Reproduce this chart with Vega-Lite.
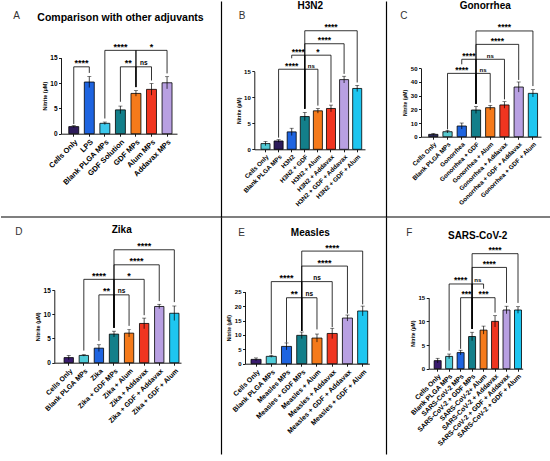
{
  "$schema": "https://vega.github.io/schema/vega-lite/v6.json",
  "padding": 0,
  "background": "white",
  "spacing": 0,
  "bounds": "flush",
  "columns": 3,
  "resolve": {"scale": {"color": "independent"}},
  "datasets": {
    "bars": [
      {"panel": "A", "cat": "Cells Only", "mean": 1.4, "lo": 1.2, "hi": 1.6},
      {"panel": "A", "cat": "LPS", "mean": 10.2, "lo": 9.1, "hi": 11.3},
      {"panel": "A", "cat": "Blank PLGA MPs", "mean": 2.05, "lo": 1.8, "hi": 2.3},
      {"panel": "A", "cat": "GDF Solution", "mean": 4.7, "lo": 3.95, "hi": 5.45},
      {"panel": "A", "cat": "GDF MPs", "mean": 7.95, "lo": 7.4, "hi": 8.5},
      {"panel": "A", "cat": "Alum MPs", "mean": 8.75, "lo": 7.6, "hi": 9.9},
      {"panel": "A", "cat": "Addavax MPs", "mean": 10.05, "lo": 8.85, "hi": 11.25},
      {"panel": "B", "cat": "Cells Only", "mean": 1.1, "lo": 0.7, "hi": 1.5},
      {"panel": "B", "cat": "Blank PLGA MPs", "mean": 1.6, "lo": 1.35, "hi": 1.85},
      {"panel": "B", "cat": "H3N2", "mean": 3.35, "lo": 2.65, "hi": 4.05},
      {"panel": "B", "cat": "H3N2 + GDF", "mean": 6.3, "lo": 5.5, "hi": 7.1},
      {"panel": "B", "cat": "H3N2 + Alum", "mean": 7.4, "lo": 6.95, "hi": 7.85},
      {"panel": "B", "cat": "H3N2 + Addavax", "mean": 7.85, "lo": 7.2, "hi": 8.5},
      {"panel": "B", "cat": "H3N2 + GDF + Addavax", "mean": 13.4, "lo": 12.75, "hi": 14.05},
      {"panel": "B", "cat": "H3N2 + GDF + Alum", "mean": 11.7, "lo": 11.1, "hi": 12.3},
      {"panel": "C", "cat": "Cells Only", "mean": 1.7, "lo": 1.0, "hi": 2.4},
      {"panel": "C", "cat": "Blank PLGA MPs", "mean": 3.65, "lo": 2.7, "hi": 4.6},
      {"panel": "C", "cat": "Gonorrhea", "mean": 7.8, "lo": 5.6, "hi": 10.0},
      {"panel": "C", "cat": "Gonorrhea + GDF", "mean": 19.5, "lo": 17.0, "hi": 22.0},
      {"panel": "C", "cat": "Gonorrhea + Alum", "mean": 21.2, "lo": 19.5, "hi": 22.9},
      {"panel": "C", "cat": "Gonorrhea + Addavax", "mean": 23.2, "lo": 20.8, "hi": 25.6},
      {"panel": "C", "cat": "Gonorrhea + GDF + Addavax", "mean": 36.3, "lo": 32.6, "hi": 40.0},
      {"panel": "C", "cat": "Gonorrhea + GDF + Alum", "mean": 31.7, "lo": 29.0, "hi": 34.4},
      {"panel": "D", "cat": "Cells Only", "mean": 1.05, "lo": 0.6, "hi": 1.5},
      {"panel": "D", "cat": "Blank PLGA MPs", "mean": 1.5, "lo": 1.35, "hi": 1.65},
      {"panel": "D", "cat": "Zika", "mean": 3.0, "lo": 2.3, "hi": 3.7},
      {"panel": "D", "cat": "Zika + GDF MPs", "mean": 5.9, "lo": 5.3, "hi": 6.5},
      {"panel": "D", "cat": "Zika + Alum", "mean": 6.1, "lo": 5.3, "hi": 6.9},
      {"panel": "D", "cat": "Zika + Addavax", "mean": 8.1, "lo": 7.0, "hi": 9.2},
      {"panel": "D", "cat": "Zika + GDF + Addavax", "mean": 11.6, "lo": 11.15, "hi": 12.05},
      {"panel": "D", "cat": "Zika + GDF + Alum", "mean": 10.2, "lo": 8.7, "hi": 11.7},
      {"panel": "E", "cat": "Cells Only", "mean": 1.5, "lo": 1.0, "hi": 2.0},
      {"panel": "E", "cat": "Blank PLGA MPs", "mean": 2.55, "lo": 2.2, "hi": 2.9},
      {"panel": "E", "cat": "Measles MPs", "mean": 6.0, "lo": 4.8, "hi": 7.2},
      {"panel": "E", "cat": "Measles + GDF MPs", "mean": 9.85, "lo": 8.7, "hi": 11.0},
      {"panel": "E", "cat": "Measles + Alum", "mean": 8.9, "lo": 7.5, "hi": 10.3},
      {"panel": "E", "cat": "Measles + Addavax", "mean": 10.5, "lo": 8.7, "hi": 12.3},
      {"panel": "E", "cat": "Measles + GDF + Addavax", "mean": 15.85, "lo": 14.8, "hi": 16.9},
      {"panel": "E", "cat": "Measles + GDF + Alum", "mean": 18.3, "lo": 16.6, "hi": 20.0},
      {"panel": "F", "cat": "Cells Only", "mean": 1.7, "lo": 1.2, "hi": 2.2},
      {"panel": "F", "cat": "Blank PLGA MPs", "mean": 2.6, "lo": 2.1, "hi": 3.1},
      {"panel": "F", "cat": "SARS-CoV-2 MPs", "mean": 3.4, "lo": 2.9, "hi": 3.9},
      {"panel": "F", "cat": "SARS-CoV-2 + GDF MPs", "mean": 6.8, "lo": 5.9, "hi": 7.7},
      {"panel": "F", "cat": "SARS-CoV-2+ Alum", "mean": 8.15, "lo": 7.3, "hi": 9.0},
      {"panel": "F", "cat": "SARS-CoV-2 + Addavax", "mean": 10.0, "lo": 8.8, "hi": 11.2},
      {"panel": "F", "cat": "SARS-CoV-2 + GDF + Addavax", "mean": 12.4, "lo": 11.6, "hi": 13.2},
      {"panel": "F", "cat": "SARS-CoV-2 + GDF + Alum", "mean": 12.4, "lo": 11.7, "hi": 13.1}
    ],
    "brackets": [
      {"panel": "A", "from": "Cells Only", "to": "LPS", "h": 13.2, "lowFrom": 1.9, "lowTo": 12.0, "label": "****", "at": "Cells Only", "half": true},
      {"panel": "A", "from": "Blank PLGA MPs", "to": "GDF MPs", "h": 16.45, "lowFrom": 3.0, "lowTo": 9.2, "label": "****", "at": "GDF Solution", "half": false},
      {"panel": "A", "from": "GDF Solution", "to": "GDF MPs", "h": 13.2, "lowFrom": 6.3, "lowTo": 9.2, "label": "**", "at": "GDF Solution", "half": true},
      {"panel": "A", "from": "GDF MPs", "to": "Alum MPs", "h": 13.2, "lowFrom": 9.2, "lowTo": 10.5, "label": "ns", "at": "GDF MPs", "half": true},
      {"panel": "A", "from": "GDF MPs", "to": "Addavax MPs", "h": 16.45, "lowFrom": 9.2, "lowTo": 11.9, "label": "*", "at": "Alum MPs", "half": false},
      {"panel": "B", "from": "Blank PLGA MPs", "to": "H3N2 + GDF", "h": 15.4, "lowFrom": 2.25, "lowTo": 7.8, "label": "****", "at": "H3N2", "half": false},
      {"panel": "B", "from": "H3N2", "to": "H3N2 + GDF", "h": 18.1, "lowFrom": 17.5, "lowTo": 7.8, "label": "****", "at": "H3N2", "half": true},
      {"panel": "B", "from": "H3N2 + GDF", "to": "H3N2 + Alum", "h": 15.4, "lowFrom": 7.8, "lowTo": 8.4, "label": "ns", "at": "H3N2 + GDF", "half": true},
      {"panel": "B", "from": "H3N2 + GDF", "to": "H3N2 + Addavax", "h": 18.1, "lowFrom": 7.8, "lowTo": 9.0, "label": "*", "at": "H3N2 + Alum", "half": false},
      {"panel": "B", "from": "H3N2 + GDF", "to": "H3N2 + GDF + Addavax", "h": 20.3, "lowFrom": 7.8, "lowTo": 14.5, "label": "****", "at": "H3N2 + Alum", "half": true},
      {"panel": "B", "from": "H3N2 + GDF", "to": "H3N2 + GDF + Alum", "h": 22.8, "lowFrom": 7.8, "lowTo": 12.85, "label": "****", "at": "H3N2 + Addavax", "half": false},
      {"panel": "C", "from": "Blank PLGA MPs", "to": "Gonorrhea + GDF", "h": 46.3, "lowFrom": 5.4, "lowTo": 24.0, "label": "****", "at": "Gonorrhea", "half": false},
      {"panel": "C", "from": "Gonorrhea", "to": "Gonorrhea + GDF", "h": 56.6, "lowFrom": 52.9, "lowTo": 24.0, "label": "****", "at": "Gonorrhea", "half": true},
      {"panel": "C", "from": "Gonorrhea + GDF", "to": "Gonorrhea + Alum", "h": 46.3, "lowFrom": 24.0, "lowTo": 24.9, "label": "ns", "at": "Gonorrhea + GDF", "half": true},
      {"panel": "C", "from": "Gonorrhea + GDF", "to": "Gonorrhea + Addavax", "h": 56.6, "lowFrom": 24.0, "lowTo": 27.3, "label": "ns", "at": "Gonorrhea + Alum", "half": false},
      {"panel": "C", "from": "Gonorrhea + GDF", "to": "Gonorrhea + GDF + Addavax", "h": 67.5, "lowFrom": 24.0, "lowTo": 41.5, "label": "****", "at": "Gonorrhea + Alum", "half": true},
      {"panel": "C", "from": "Gonorrhea + GDF", "to": "Gonorrhea + GDF + Alum", "h": 77.3, "lowFrom": 24.0, "lowTo": 37.0, "label": "****", "at": "Gonorrhea + Addavax", "half": false},
      {"panel": "D", "from": "Blank PLGA MPs", "to": "Zika + GDF MPs", "h": 17.2, "lowFrom": 2.5, "lowTo": 7.2, "label": "****", "at": "Zika", "half": false},
      {"panel": "D", "from": "Zika", "to": "Zika + GDF MPs", "h": 14.0, "lowFrom": 4.5, "lowTo": 7.2, "label": "**", "at": "Zika", "half": true},
      {"panel": "D", "from": "Zika + GDF MPs", "to": "Zika + Alum", "h": 14.0, "lowFrom": 7.2, "lowTo": 7.6, "label": "ns", "at": "Zika + GDF MPs", "half": true},
      {"panel": "D", "from": "Zika + GDF MPs", "to": "Zika + Addavax", "h": 17.2, "lowFrom": 7.2, "lowTo": 9.8, "label": "*", "at": "Zika + Alum", "half": false},
      {"panel": "D", "from": "Zika + GDF MPs", "to": "Zika + GDF + Addavax", "h": 20.2, "lowFrom": 7.2, "lowTo": 12.7, "label": "****", "at": "Zika + Alum", "half": true},
      {"panel": "D", "from": "Zika + GDF MPs", "to": "Zika + GDF + Alum", "h": 23.3, "lowFrom": 7.2, "lowTo": 12.5, "label": "****", "at": "Zika + Addavax", "half": false},
      {"panel": "E", "from": "Blank PLGA MPs", "to": "Measles + GDF MPs", "h": 28.5, "lowFrom": 3.25, "lowTo": 11.35, "label": "****", "at": "Measles MPs", "half": false},
      {"panel": "E", "from": "Measles MPs", "to": "Measles + GDF MPs", "h": 22.9, "lowFrom": 7.3, "lowTo": 11.35, "label": "**", "at": "Measles MPs", "half": true},
      {"panel": "E", "from": "Measles + GDF MPs", "to": "Measles + Alum", "h": 22.9, "lowFrom": 11.35, "lowTo": 11.9, "label": "ns", "at": "Measles + GDF MPs", "half": true},
      {"panel": "E", "from": "Measles + GDF MPs", "to": "Measles + Addavax", "h": 28.5, "lowFrom": 11.35, "lowTo": 12.7, "label": "ns", "at": "Measles + Alum", "half": false},
      {"panel": "E", "from": "Measles + GDF MPs", "to": "Measles + GDF + Addavax", "h": 33.9, "lowFrom": 11.35, "lowTo": 17.4, "label": "****", "at": "Measles + Alum", "half": true},
      {"panel": "E", "from": "Measles + GDF MPs", "to": "Measles + GDF + Alum", "h": 39.1, "lowFrom": 11.35, "lowTo": 20.6, "label": "****", "at": "Measles + Addavax", "half": false},
      {"panel": "F", "from": "Blank PLGA MPs", "to": "SARS-CoV-2 + GDF MPs", "h": 17.9, "lowFrom": 3.8, "lowTo": 8.4, "label": "****", "at": "SARS-CoV-2 MPs", "half": false},
      {"panel": "F", "from": "SARS-CoV-2 MPs", "to": "SARS-CoV-2 + GDF MPs", "h": 15.0, "lowFrom": 4.2, "lowTo": 8.4, "label": "***", "at": "SARS-CoV-2 MPs", "half": true},
      {"panel": "F", "from": "SARS-CoV-2 + GDF MPs", "to": "SARS-CoV-2+ Alum", "h": 17.9, "lowFrom": 8.4, "lowTo": 16.9, "label": "ns", "at": "SARS-CoV-2 + GDF MPs", "half": true},
      {"panel": "F", "from": "SARS-CoV-2 + GDF MPs", "to": "SARS-CoV-2 + Addavax", "h": 15.0, "lowFrom": 8.4, "lowTo": 11.85, "label": "***", "at": "SARS-CoV-2+ Alum", "half": false},
      {"panel": "F", "from": "SARS-CoV-2 + GDF MPs", "to": "SARS-CoV-2 + GDF + Addavax", "h": 21.4, "lowFrom": 8.4, "lowTo": 13.9, "label": "****", "at": "SARS-CoV-2+ Alum", "half": true},
      {"panel": "F", "from": "SARS-CoV-2 + GDF MPs", "to": "SARS-CoV-2 + GDF + Alum", "h": 24.3, "lowFrom": 8.4, "lowTo": 13.9, "label": "****", "at": "SARS-CoV-2 + Addavax", "half": false}
    ],
    "sep": [{"s": 0}]
  },
  "concat": [
    {
      "width": 220, "height": 216,
      "title": {"text": "Comparison with other adjuvants", "anchor": "middle", "frame": "group", "dx": 9.5, "offset": -30, "baseline": "alphabetic", "fontSize": 10.5, "fontWeight": "bold"},
      "layer": [
        {"layer": [
          {"data": {"name": "bars"}, "transform": [{"filter": "datum.panel === 'A'"}],
           "mark": {"type": "bar", "stroke": "black", "strokeWidth": 0.8},
           "encoding": {
             "x": {"field": "cat", "type": "nominal", "sort": null,
               "scale": {"domain": ["Cells Only", "LPS", "Blank PLGA MPs", "GDF Solution", "GDF MPs", "Alum MPs", "Addavax MPs"], "range": [60, 176], "paddingInner": 0.36, "paddingOuter": 0.41, "align": 0.61},
               "axis": {"orient": "bottom", "offset": -83.3, "labelAngle": -45, "labelFontSize": 7.5, "title": "A", "titleX": 15, "titleY": -118.7, "titleAngle": 0, "titleAlign": "center", "titleBaseline": "middle", "titleFontSize": 10, "titleFontWeight": "normal", "titleColor": "#333"}},
             "y": {"field": "mean", "type": "quantitative",
               "scale": {"domain": [0, 15], "range": [132.7, 56.7], "nice": false, "zero": false},
               "axis": {"orient": "left", "offset": -60, "values": [0, 5, 10, 15], "title": "Nitrite (µM)", "titleFontSize": 5.5, "labelFontSize": 6.5}},
             "y2": {"datum": 0},
             "color": {"field": "cat", "type": "nominal", "legend": null,
               "scale": {"domain": ["Cells Only", "LPS", "Blank PLGA MPs", "GDF Solution", "GDF MPs", "Alum MPs", "Addavax MPs"], "range": ["#2d1b5a", "#1e64e0", "#3cc8ec", "#137f8a", "#f57a1b", "#f03520", "#b8a0e2"]}}
           }},
          {"data": {"name": "bars"}, "transform": [{"filter": "datum.panel === 'A'"}], "mark": {"type": "rule", "color": "black", "strokeWidth": 0.7},
           "encoding": {"x": {"field": "cat", "type": "nominal"}, "y": {"field": "lo", "type": "quantitative"}, "y2": {"field": "hi"}}},
          {"data": {"name": "bars"}, "transform": [{"filter": "datum.panel === 'A'"}], "mark": {"type": "tick", "orient": "horizontal", "color": "black", "size": 4, "thickness": 0.7},
           "encoding": {"x": {"field": "cat", "type": "nominal"}, "y": {"field": "hi", "type": "quantitative"}}},
          {"data": {"name": "brackets"}, "transform": [{"filter": "datum.panel === 'A'"}], "mark": {"type": "rule", "color": "black", "strokeWidth": 0.8},
           "encoding": {"x": {"field": "from", "type": "nominal"}, "x2": {"field": "to"}, "y": {"field": "h", "type": "quantitative"}}},
          {"data": {"name": "brackets"}, "transform": [{"filter": "datum.panel === 'A'"}], "mark": {"type": "rule", "color": "black", "strokeWidth": 0.8},
           "encoding": {"x": {"field": "from", "type": "nominal"}, "y": {"field": "h", "type": "quantitative"}, "y2": {"field": "lowFrom"}}},
          {"data": {"name": "brackets"}, "transform": [{"filter": "datum.panel === 'A'"}], "mark": {"type": "rule", "color": "black", "strokeWidth": 0.8},
           "encoding": {"x": {"field": "to", "type": "nominal"}, "y": {"field": "h", "type": "quantitative"}, "y2": {"field": "lowTo"}}},
          {"data": {"name": "brackets"}, "transform": [{"filter": "datum.panel === 'A' && !datum.half"}], "mark": {"type": "text", "fontWeight": "bold", "baseline": "middle", "dy": -3.5},
           "encoding": {"x": {"field": "at", "type": "nominal"}, "y": {"field": "h", "type": "quantitative"}, "text": {"field": "label"}, "size": {"condition": {"test": "datum.label === 'ns'", "value": 6.5}, "value": 9}}},
          {"data": {"name": "brackets"}, "transform": [{"filter": "datum.panel === 'A' && datum.half"}], "mark": {"type": "text", "fontWeight": "bold", "baseline": "middle", "dy": -3.5},
           "encoding": {"x": {"field": "at", "type": "nominal", "bandPosition": 1.281}, "y": {"field": "h", "type": "quantitative"}, "text": {"field": "label"}, "size": {"condition": {"test": "datum.label === 'ns'", "value": 6.5}, "value": 9}}}
        ]},
        {"data": {"name": "sep"}, "mark": {"type": "rule", "color": "black", "strokeWidth": 1.2},
         "encoding": {"y": {"field": "s", "type": "quantitative", "scale": {"domain": [0, 1], "range": [216, 0]}, "axis": {"orient": "right", "title": null, "labels": false, "ticks": false, "grid": false, "domainWidth": 1.2}}}}
      ],
      "resolve": {"scale": {"y": "independent"}}
    },
    {
      "width": 165, "height": 216,
      "title": {"text": "H3N2", "anchor": "middle", "frame": "group", "dx": 6.8, "offset": -17.6, "baseline": "alphabetic", "fontSize": 10, "fontWeight": "bold"},
      "layer": [
        {"layer": [
          {"data": {"name": "bars"}, "transform": [{"filter": "datum.panel === 'B'"}],
           "mark": {"type": "bar", "stroke": "black", "strokeWidth": 0.8},
           "encoding": {
             "x": {"field": "cat", "type": "nominal", "sort": null,
               "scale": {"domain": ["Cells Only", "Blank PLGA MPs", "H3N2", "H3N2 + GDF", "H3N2 + Alum", "H3N2 + Addavax", "H3N2 + GDF + Addavax", "H3N2 + GDF + Alum"], "range": [33.3, 144], "paddingInner": 0.31, "paddingOuter": 0.38, "align": 0.67},
               "axis": {"orient": "bottom", "offset": -67.7, "labelAngle": -45, "labelFontSize": 6.3, "title": "B", "titleX": 20.7, "titleY": -134.3, "titleAngle": 0, "titleAlign": "center", "titleBaseline": "middle", "titleFontSize": 10, "titleFontWeight": "normal", "titleColor": "#333"}},
             "y": {"field": "mean", "type": "quantitative",
               "scale": {"domain": [0, 15], "range": [148.3, 70.3], "nice": false, "zero": false},
               "axis": {"orient": "left", "offset": -33.3, "values": [0, 5, 10, 15], "title": "Nitrite (µM)", "titleFontSize": 5, "labelFontSize": 6}},
             "y2": {"datum": 0},
             "color": {"field": "cat", "type": "nominal", "legend": null,
               "scale": {"domain": ["Cells Only", "Blank PLGA MPs", "H3N2", "H3N2 + GDF", "H3N2 + Alum", "H3N2 + Addavax", "H3N2 + GDF + Addavax", "H3N2 + GDF + Alum"], "range": ["#52c9d4", "#2d1b5a", "#1e64e0", "#137f8a", "#f57a1b", "#f03520", "#b8a0e2", "#1ec6f0"]}}
           }},
          {"data": {"name": "bars"}, "transform": [{"filter": "datum.panel === 'B'"}], "mark": {"type": "rule", "color": "black", "strokeWidth": 0.7},
           "encoding": {"x": {"field": "cat", "type": "nominal"}, "y": {"field": "lo", "type": "quantitative"}, "y2": {"field": "hi"}}},
          {"data": {"name": "bars"}, "transform": [{"filter": "datum.panel === 'B'"}], "mark": {"type": "tick", "orient": "horizontal", "color": "black", "size": 4, "thickness": 0.7},
           "encoding": {"x": {"field": "cat", "type": "nominal"}, "y": {"field": "hi", "type": "quantitative"}}},
          {"data": {"name": "brackets"}, "transform": [{"filter": "datum.panel === 'B'"}], "mark": {"type": "rule", "color": "black", "strokeWidth": 0.8},
           "encoding": {"x": {"field": "from", "type": "nominal"}, "x2": {"field": "to"}, "y": {"field": "h", "type": "quantitative"}}},
          {"data": {"name": "brackets"}, "transform": [{"filter": "datum.panel === 'B'"}], "mark": {"type": "rule", "color": "black", "strokeWidth": 0.8},
           "encoding": {"x": {"field": "from", "type": "nominal"}, "y": {"field": "h", "type": "quantitative"}, "y2": {"field": "lowFrom"}}},
          {"data": {"name": "brackets"}, "transform": [{"filter": "datum.panel === 'B'"}], "mark": {"type": "rule", "color": "black", "strokeWidth": 0.8},
           "encoding": {"x": {"field": "to", "type": "nominal"}, "y": {"field": "h", "type": "quantitative"}, "y2": {"field": "lowTo"}}},
          {"data": {"name": "brackets"}, "transform": [{"filter": "datum.panel === 'B' && !datum.half"}], "mark": {"type": "text", "fontWeight": "bold", "baseline": "middle", "dy": -3.5},
           "encoding": {"x": {"field": "at", "type": "nominal"}, "y": {"field": "h", "type": "quantitative"}, "text": {"field": "label"}, "size": {"condition": {"test": "datum.label === 'ns'", "value": 6}, "value": 8.5}}},
          {"data": {"name": "brackets"}, "transform": [{"filter": "datum.panel === 'B' && datum.half"}], "mark": {"type": "text", "fontWeight": "bold", "baseline": "middle", "dy": -3.5},
           "encoding": {"x": {"field": "at", "type": "nominal", "bandPosition": 1.225}, "y": {"field": "h", "type": "quantitative"}, "text": {"field": "label"}, "size": {"condition": {"test": "datum.label === 'ns'", "value": 6}, "value": 8.5}}}
        ]},
        {"data": {"name": "sep"}, "mark": {"type": "rule", "color": "black", "strokeWidth": 1.2},
         "encoding": {"y": {"field": "s", "type": "quantitative", "scale": {"domain": [0, 1], "range": [216, 0]}, "axis": {"orient": "right", "title": null, "labels": false, "ticks": false, "grid": false, "domainWidth": 1.2}}}}
      ],
      "resolve": {"scale": {"y": "independent"}}
    },
    {
      "width": 165, "height": 216,
      "title": {"text": "Gonorrhea", "anchor": "middle", "frame": "group", "dx": 16.8, "offset": -17.6, "baseline": "alphabetic", "fontSize": 10, "fontWeight": "bold"},
      "layer": [
        {"layer": [
          {"data": {"name": "bars"}, "transform": [{"filter": "datum.panel === 'C'"}],
           "mark": {"type": "bar", "stroke": "black", "strokeWidth": 0.8},
           "encoding": {
             "x": {"field": "cat", "type": "nominal", "sort": null,
               "scale": {"domain": ["Cells Only", "Blank PLGA MPs", "Gonorrhea", "Gonorrhea + GDF", "Gonorrhea + Alum", "Gonorrhea + Addavax", "Gonorrhea + GDF + Addavax", "Gonorrhea + GDF + Alum"], "range": [35, 155], "paddingInner": 0.35, "paddingOuter": 0.39, "align": 0.69},
               "axis": {"orient": "bottom", "offset": -80.3, "labelAngle": -45, "labelFontSize": 6.3, "title": "C", "titleX": 17.3, "titleY": -121.7, "titleAngle": 0, "titleAlign": "center", "titleBaseline": "middle", "titleFontSize": 10, "titleFontWeight": "normal", "titleColor": "#333"}},
             "y": {"field": "mean", "type": "quantitative",
               "scale": {"domain": [0, 50], "range": [135.7, 67.3], "nice": false, "zero": false},
               "axis": {"orient": "left", "offset": -35, "values": [0, 10, 20, 30, 40, 50], "title": "Nitrite (µM)", "titleFontSize": 5, "labelFontSize": 6}},
             "y2": {"datum": 0},
             "color": {"field": "cat", "type": "nominal", "legend": null,
               "scale": {"domain": ["Cells Only", "Blank PLGA MPs", "Gonorrhea", "Gonorrhea + GDF", "Gonorrhea + Alum", "Gonorrhea + Addavax", "Gonorrhea + GDF + Addavax", "Gonorrhea + GDF + Alum"], "range": ["#2a2a5a", "#55c7cc", "#1e64e0", "#137f8a", "#f57a1b", "#f03520", "#b8a0e2", "#1ec6f0"]}}
           }},
          {"data": {"name": "bars"}, "transform": [{"filter": "datum.panel === 'C'"}], "mark": {"type": "rule", "color": "black", "strokeWidth": 0.7},
           "encoding": {"x": {"field": "cat", "type": "nominal"}, "y": {"field": "lo", "type": "quantitative"}, "y2": {"field": "hi"}}},
          {"data": {"name": "bars"}, "transform": [{"filter": "datum.panel === 'C'"}], "mark": {"type": "tick", "orient": "horizontal", "color": "black", "size": 4, "thickness": 0.7},
           "encoding": {"x": {"field": "cat", "type": "nominal"}, "y": {"field": "hi", "type": "quantitative"}}},
          {"data": {"name": "brackets"}, "transform": [{"filter": "datum.panel === 'C'"}], "mark": {"type": "rule", "color": "black", "strokeWidth": 0.8},
           "encoding": {"x": {"field": "from", "type": "nominal"}, "x2": {"field": "to"}, "y": {"field": "h", "type": "quantitative"}}},
          {"data": {"name": "brackets"}, "transform": [{"filter": "datum.panel === 'C'"}], "mark": {"type": "rule", "color": "black", "strokeWidth": 0.8},
           "encoding": {"x": {"field": "from", "type": "nominal"}, "y": {"field": "h", "type": "quantitative"}, "y2": {"field": "lowFrom"}}},
          {"data": {"name": "brackets"}, "transform": [{"filter": "datum.panel === 'C'"}], "mark": {"type": "rule", "color": "black", "strokeWidth": 0.8},
           "encoding": {"x": {"field": "to", "type": "nominal"}, "y": {"field": "h", "type": "quantitative"}, "y2": {"field": "lowTo"}}},
          {"data": {"name": "brackets"}, "transform": [{"filter": "datum.panel === 'C' && !datum.half"}], "mark": {"type": "text", "fontWeight": "bold", "baseline": "middle", "dy": -3.5},
           "encoding": {"x": {"field": "at", "type": "nominal"}, "y": {"field": "h", "type": "quantitative"}, "text": {"field": "label"}, "size": {"condition": {"test": "datum.label === 'ns'", "value": 6}, "value": 8.5}}},
          {"data": {"name": "brackets"}, "transform": [{"filter": "datum.panel === 'C' && datum.half"}], "mark": {"type": "text", "fontWeight": "bold", "baseline": "middle", "dy": -3.5},
           "encoding": {"x": {"field": "at", "type": "nominal", "bandPosition": 1.269}, "y": {"field": "h", "type": "quantitative"}, "text": {"field": "label"}, "size": {"condition": {"test": "datum.label === 'ns'", "value": 6}, "value": 8.5}}}
        ]},
        {"data": {"name": "sep"}, "mark": {"type": "rule", "color": "black", "strokeWidth": 1.2},
         "encoding": {"y": {"field": "s", "type": "quantitative", "scale": {"domain": [0, 1], "range": [216, 0]}, "axis": null}}}
      ],
      "resolve": {"scale": {"y": "independent"}}
    },
    {
      "width": 220, "height": 245,
      "title": {"text": "Zika", "anchor": "middle", "frame": "group", "dx": 10.7, "offset": -25.6, "baseline": "alphabetic", "fontSize": 10, "fontWeight": "bold"},
      "layer": [
        {"layer": [
          {"data": {"name": "bars"}, "transform": [{"filter": "datum.panel === 'D'"}],
           "mark": {"type": "bar", "stroke": "black", "strokeWidth": 0.8},
           "encoding": {
             "x": {"field": "cat", "type": "nominal", "sort": null,
               "scale": {"domain": ["Cells Only", "Blank PLGA MPs", "Zika", "Zika + GDF MPs", "Zika + Alum", "Zika + Addavax", "Zika + GDF + Addavax", "Zika + GDF + Alum"], "range": [53.3, 180], "paddingInner": 0.38, "paddingOuter": 0.39, "align": 0.83},
               "axis": {"orient": "bottom", "offset": -99.3, "labelAngle": -45, "labelFontSize": 7, "title": "D", "titleX": 17.3, "titleY": -131.7, "titleAngle": 0, "titleAlign": "center", "titleBaseline": "middle", "titleFontSize": 10, "titleFontWeight": "normal", "titleColor": "#333"}},
             "y": {"field": "mean", "type": "quantitative",
               "scale": {"domain": [0, 15], "range": [145.7, 73], "nice": false, "zero": false},
               "axis": {"orient": "left", "offset": -53.3, "values": [0, 5, 10, 15], "title": "Nitrite (µM)", "titleFontSize": 5.5, "labelFontSize": 6.5}},
             "y2": {"datum": 0},
             "color": {"field": "cat", "type": "nominal", "legend": null,
               "scale": {"domain": ["Cells Only", "Blank PLGA MPs", "Zika", "Zika + GDF MPs", "Zika + Alum", "Zika + Addavax", "Zika + GDF + Addavax", "Zika + GDF + Alum"], "range": ["#3a1c6e", "#4fcbd8", "#1e64e0", "#137f8a", "#f57a1b", "#f03520", "#b8a0e2", "#1ec6f0"]}}
           }},
          {"data": {"name": "bars"}, "transform": [{"filter": "datum.panel === 'D'"}], "mark": {"type": "rule", "color": "black", "strokeWidth": 0.7},
           "encoding": {"x": {"field": "cat", "type": "nominal"}, "y": {"field": "lo", "type": "quantitative"}, "y2": {"field": "hi"}}},
          {"data": {"name": "bars"}, "transform": [{"filter": "datum.panel === 'D'"}], "mark": {"type": "tick", "orient": "horizontal", "color": "black", "size": 4, "thickness": 0.7},
           "encoding": {"x": {"field": "cat", "type": "nominal"}, "y": {"field": "hi", "type": "quantitative"}}},
          {"data": {"name": "brackets"}, "transform": [{"filter": "datum.panel === 'D'"}], "mark": {"type": "rule", "color": "black", "strokeWidth": 0.8},
           "encoding": {"x": {"field": "from", "type": "nominal"}, "x2": {"field": "to"}, "y": {"field": "h", "type": "quantitative"}}},
          {"data": {"name": "brackets"}, "transform": [{"filter": "datum.panel === 'D'"}], "mark": {"type": "rule", "color": "black", "strokeWidth": 0.8},
           "encoding": {"x": {"field": "from", "type": "nominal"}, "y": {"field": "h", "type": "quantitative"}, "y2": {"field": "lowFrom"}}},
          {"data": {"name": "brackets"}, "transform": [{"filter": "datum.panel === 'D'"}], "mark": {"type": "rule", "color": "black", "strokeWidth": 0.8},
           "encoding": {"x": {"field": "to", "type": "nominal"}, "y": {"field": "h", "type": "quantitative"}, "y2": {"field": "lowTo"}}},
          {"data": {"name": "brackets"}, "transform": [{"filter": "datum.panel === 'D' && !datum.half"}], "mark": {"type": "text", "fontWeight": "bold", "baseline": "middle", "dy": -3.5},
           "encoding": {"x": {"field": "at", "type": "nominal"}, "y": {"field": "h", "type": "quantitative"}, "text": {"field": "label"}, "size": {"condition": {"test": "datum.label === 'ns'", "value": 6.5}, "value": 9}}},
          {"data": {"name": "brackets"}, "transform": [{"filter": "datum.panel === 'D' && datum.half"}], "mark": {"type": "text", "fontWeight": "bold", "baseline": "middle", "dy": -3.5},
           "encoding": {"x": {"field": "at", "type": "nominal", "bandPosition": 1.306}, "y": {"field": "h", "type": "quantitative"}, "text": {"field": "label"}, "size": {"condition": {"test": "datum.label === 'ns'", "value": 6.5}, "value": 9}}}
        ]},
        {"data": {"name": "sep"}, "mark": {"type": "rule", "opacity": 0},
         "encoding": {"y": {"field": "s", "type": "quantitative", "scale": {"domain": [0, 1], "range": [237, 0]}, "axis": {"orient": "right", "title": null, "labels": false, "ticks": false, "grid": false, "domainWidth": 1.2}}}}
      ],
      "resolve": {"scale": {"y": "independent"}}
    },
    {
      "width": 165, "height": 245,
      "title": {"text": "Measles", "anchor": "middle", "frame": "group", "dx": 6.8, "offset": -28.6, "baseline": "alphabetic", "fontSize": 10, "fontWeight": "bold"},
      "layer": [
        {"layer": [
          {"data": {"name": "bars"}, "transform": [{"filter": "datum.panel === 'E'"}],
           "mark": {"type": "bar", "stroke": "black", "strokeWidth": 0.8},
           "encoding": {
             "x": {"field": "cat", "type": "nominal", "sort": null,
               "scale": {"domain": ["Cells Only", "Blank PLGA MPs", "Measles MPs", "Measles + GDF MPs", "Measles + Alum", "Measles + Addavax", "Measles + GDF + Addavax", "Measles + GDF + Alum"], "range": [24, 148.3], "paddingInner": 0.34, "paddingOuter": 0.25, "align": 0.79},
               "axis": {"orient": "bottom", "offset": -98.3, "labelAngle": -45, "labelFontSize": 7, "title": "E", "titleX": 20, "titleY": -131.7, "titleAngle": 0, "titleAlign": "center", "titleBaseline": "middle", "titleFontSize": 10, "titleFontWeight": "normal", "titleColor": "#333"}},
             "y": {"field": "mean", "type": "quantitative",
               "scale": {"domain": [0, 25], "range": [146.7, 74.7], "nice": false, "zero": false},
               "axis": {"orient": "left", "offset": -24, "values": [0, 5, 10, 15, 20, 25], "title": "Nitrite (µM)", "titleFontSize": 5, "labelFontSize": 6}},
             "y2": {"datum": 0},
             "color": {"field": "cat", "type": "nominal", "legend": null,
               "scale": {"domain": ["Cells Only", "Blank PLGA MPs", "Measles MPs", "Measles + GDF MPs", "Measles + Alum", "Measles + Addavax", "Measles + GDF + Addavax", "Measles + GDF + Alum"], "range": ["#3a1c6e", "#4fcbd8", "#1e64e0", "#137f8a", "#f57a1b", "#f03520", "#b8a0e2", "#1ec6f0"]}}
           }},
          {"data": {"name": "bars"}, "transform": [{"filter": "datum.panel === 'E'"}], "mark": {"type": "rule", "color": "black", "strokeWidth": 0.7},
           "encoding": {"x": {"field": "cat", "type": "nominal"}, "y": {"field": "lo", "type": "quantitative"}, "y2": {"field": "hi"}}},
          {"data": {"name": "bars"}, "transform": [{"filter": "datum.panel === 'E'"}], "mark": {"type": "tick", "orient": "horizontal", "color": "black", "size": 4, "thickness": 0.7},
           "encoding": {"x": {"field": "cat", "type": "nominal"}, "y": {"field": "hi", "type": "quantitative"}}},
          {"data": {"name": "brackets"}, "transform": [{"filter": "datum.panel === 'E'"}], "mark": {"type": "rule", "color": "black", "strokeWidth": 0.8},
           "encoding": {"x": {"field": "from", "type": "nominal"}, "x2": {"field": "to"}, "y": {"field": "h", "type": "quantitative"}}},
          {"data": {"name": "brackets"}, "transform": [{"filter": "datum.panel === 'E'"}], "mark": {"type": "rule", "color": "black", "strokeWidth": 0.8},
           "encoding": {"x": {"field": "from", "type": "nominal"}, "y": {"field": "h", "type": "quantitative"}, "y2": {"field": "lowFrom"}}},
          {"data": {"name": "brackets"}, "transform": [{"filter": "datum.panel === 'E'"}], "mark": {"type": "rule", "color": "black", "strokeWidth": 0.8},
           "encoding": {"x": {"field": "to", "type": "nominal"}, "y": {"field": "h", "type": "quantitative"}, "y2": {"field": "lowTo"}}},
          {"data": {"name": "brackets"}, "transform": [{"filter": "datum.panel === 'E' && !datum.half"}], "mark": {"type": "text", "fontWeight": "bold", "baseline": "middle", "dy": -3.5},
           "encoding": {"x": {"field": "at", "type": "nominal"}, "y": {"field": "h", "type": "quantitative"}, "text": {"field": "label"}, "size": {"condition": {"test": "datum.label === 'ns'", "value": 6.5}, "value": 9}}},
          {"data": {"name": "brackets"}, "transform": [{"filter": "datum.panel === 'E' && datum.half"}], "mark": {"type": "text", "fontWeight": "bold", "baseline": "middle", "dy": -3.5},
           "encoding": {"x": {"field": "at", "type": "nominal", "bandPosition": 1.258}, "y": {"field": "h", "type": "quantitative"}, "text": {"field": "label"}, "size": {"condition": {"test": "datum.label === 'ns'", "value": 6.5}, "value": 9}}}
        ]},
        {"data": {"name": "sep"}, "mark": {"type": "rule", "opacity": 0},
         "encoding": {"y": {"field": "s", "type": "quantitative", "scale": {"domain": [0, 1], "range": [237, 0]}, "axis": {"orient": "right", "title": null, "labels": false, "ticks": false, "grid": false, "domainWidth": 1.2}}}}
      ],
      "resolve": {"scale": {"y": "independent"}}
    },
    {
      "width": 165, "height": 245,
      "title": {"text": "SARS-CoV-2", "anchor": "middle", "frame": "group", "dx": 9.2, "offset": -31.6, "baseline": "alphabetic", "fontSize": 10, "fontWeight": "bold"},
      "layer": [
        {"data": {"name": "bars"}, "transform": [{"filter": "datum.panel === 'F'"}],
         "mark": {"type": "bar", "stroke": "black", "strokeWidth": 0.8},
         "encoding": {
           "x": {"field": "cat", "type": "nominal", "sort": null,
             "scale": {"domain": ["Cells Only", "Blank PLGA MPs", "SARS-CoV-2 MPs", "SARS-CoV-2 + GDF MPs", "SARS-CoV-2+ Alum", "SARS-CoV-2 + Addavax", "SARS-CoV-2 + GDF + Addavax", "SARS-CoV-2 + GDF + Alum"], "range": [42.7, 136.7], "paddingInner": 0.39, "paddingOuter": 0.29, "align": 0.82},
             "axis": {"orient": "bottom", "offset": -93.3, "labelAngle": -45, "labelFontSize": 6.8, "title": "F", "titleX": 22.7, "titleY": -136.7, "titleAngle": 0, "titleAlign": "center", "titleBaseline": "middle", "titleFontSize": 10, "titleFontWeight": "normal", "titleColor": "#333"}},
           "y": {"field": "mean", "type": "quantitative",
             "scale": {"domain": [0, 15], "range": [151.7, 80.7], "nice": false, "zero": false},
             "axis": {"orient": "left", "offset": -42.7, "values": [0, 5, 10, 15], "title": "Nitrite (µM)", "titleFontSize": 5, "labelFontSize": 6}},
           "y2": {"datum": 0},
           "color": {"field": "cat", "type": "nominal", "legend": null,
             "scale": {"domain": ["Cells Only", "Blank PLGA MPs", "SARS-CoV-2 MPs", "SARS-CoV-2 + GDF MPs", "SARS-CoV-2+ Alum", "SARS-CoV-2 + Addavax", "SARS-CoV-2 + GDF + Addavax", "SARS-CoV-2 + GDF + Alum"], "range": ["#3a1c6e", "#4fcbd8", "#1e64e0", "#137f8a", "#f57a1b", "#f03520", "#b8a0e2", "#1ec6f0"]}}
         }},
        {"data": {"name": "bars"}, "transform": [{"filter": "datum.panel === 'F'"}], "mark": {"type": "rule", "color": "black", "strokeWidth": 0.7},
         "encoding": {"x": {"field": "cat", "type": "nominal"}, "y": {"field": "lo", "type": "quantitative"}, "y2": {"field": "hi"}}},
        {"data": {"name": "bars"}, "transform": [{"filter": "datum.panel === 'F'"}], "mark": {"type": "tick", "orient": "horizontal", "color": "black", "size": 4, "thickness": 0.7},
         "encoding": {"x": {"field": "cat", "type": "nominal"}, "y": {"field": "hi", "type": "quantitative"}}},
        {"data": {"name": "brackets"}, "transform": [{"filter": "datum.panel === 'F'"}], "mark": {"type": "rule", "color": "black", "strokeWidth": 0.8},
         "encoding": {"x": {"field": "from", "type": "nominal"}, "x2": {"field": "to"}, "y": {"field": "h", "type": "quantitative"}}},
        {"data": {"name": "brackets"}, "transform": [{"filter": "datum.panel === 'F'"}], "mark": {"type": "rule", "color": "black", "strokeWidth": 0.8},
         "encoding": {"x": {"field": "from", "type": "nominal"}, "y": {"field": "h", "type": "quantitative"}, "y2": {"field": "lowFrom"}}},
        {"data": {"name": "brackets"}, "transform": [{"filter": "datum.panel === 'F'"}], "mark": {"type": "rule", "color": "black", "strokeWidth": 0.8},
         "encoding": {"x": {"field": "to", "type": "nominal"}, "y": {"field": "h", "type": "quantitative"}, "y2": {"field": "lowTo"}}},
        {"data": {"name": "brackets"}, "transform": [{"filter": "datum.panel === 'F' && !datum.half"}], "mark": {"type": "text", "fontWeight": "bold", "baseline": "middle", "dy": -3.5},
         "encoding": {"x": {"field": "at", "type": "nominal"}, "y": {"field": "h", "type": "quantitative"}, "text": {"field": "label"}, "size": {"condition": {"test": "datum.label === 'ns'", "value": 6}, "value": 8.5}}},
        {"data": {"name": "brackets"}, "transform": [{"filter": "datum.panel === 'F' && datum.half"}], "mark": {"type": "text", "fontWeight": "bold", "baseline": "middle", "dy": -3.5},
         "encoding": {"x": {"field": "at", "type": "nominal", "bandPosition": 1.32}, "y": {"field": "h", "type": "quantitative"}, "text": {"field": "label"}, "size": {"condition": {"test": "datum.label === 'ns'", "value": 6}, "value": 8.5}}}
      ]
    }
  ],
  "config": {
    "font": "Liberation Sans",
    "view": {"stroke": null},
    "title": {"font": "Liberation Sans", "color": "black"},
    "axis": {"grid": false, "domainColor": "black", "domainWidth": 0.9, "tickColor": "black", "tickWidth": 0.9, "tickSize": 2.5, "labelColor": "black", "labelFontWeight": "bold", "labelPadding": 1.5, "titleColor": "black", "titleFontWeight": "bold", "titlePadding": 2.5, "labelFont": "Liberation Sans", "titleFont": "Liberation Sans"},
    "text": {"font": "Liberation Sans", "color": "black"}
  }
}
